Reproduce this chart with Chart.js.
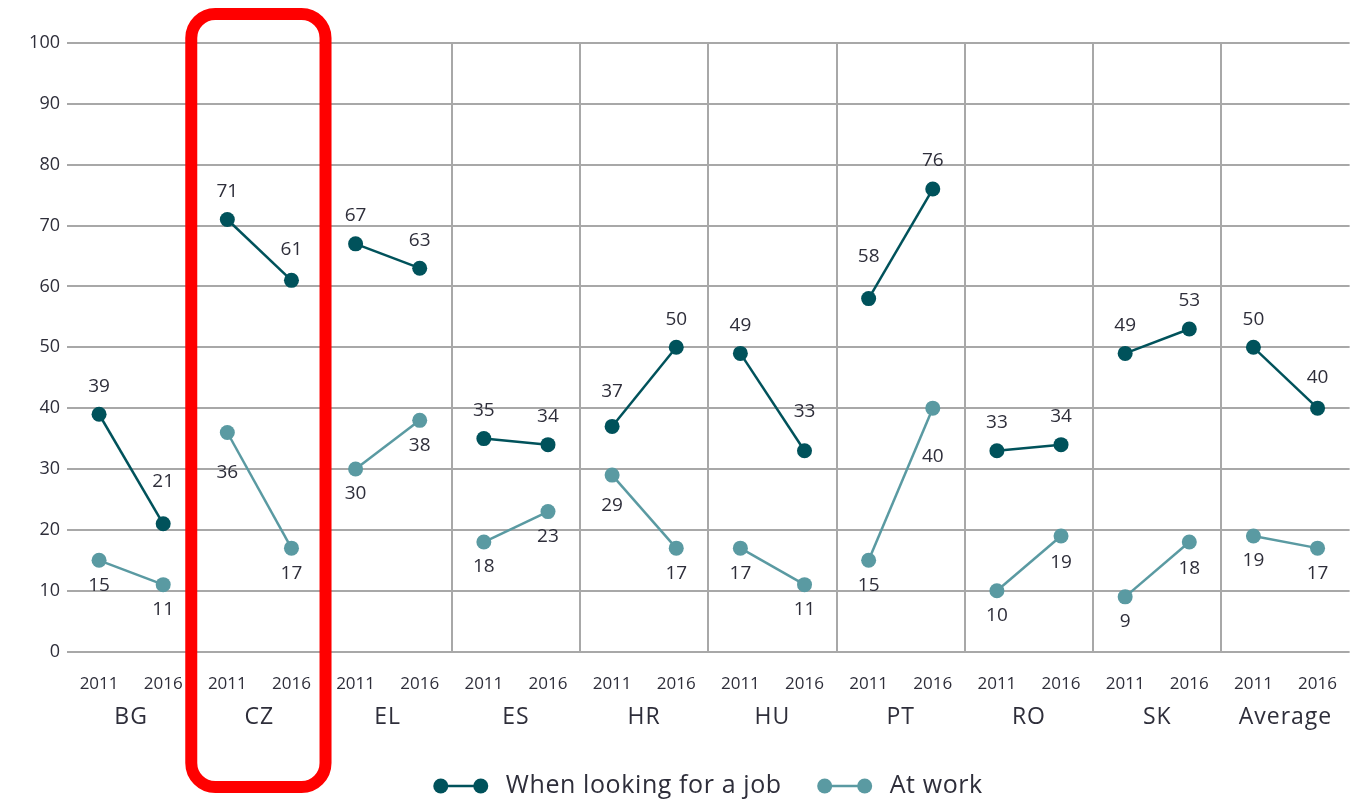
<!DOCTYPE html>
<html>
<head>
<meta charset="utf-8">
<title>Discrimination when looking for a job / at work</title>
<script src="https://cdn.jsdelivr.net/npm/chart.js@4.4.1/dist/chart.umd.min.js"></script>
<style>
    html, body { margin: 0; padding: 0; background: #fff; overflow: hidden; }
    canvas { display: block; }
</style>
</head>
<body>
<canvas id="discChart" width="1359" height="800"></canvas>
<script>
const countries = ['BG', 'CZ', 'EL', 'ES', 'HR', 'HU', 'PT', 'RO', 'SK', 'Average'];
const years = ['2011', '2016'];
const lookingForJob = [39, 21, 71, 61, 67, 63, 35, 34, 37, 50, 49, 33, 58, 76, 33, 34, 49, 53, 50, 40];
const atWork = [15, 11, 36, 17, 30, 38, 18, 23, 29, 17, 17, 11, 15, 40, 10, 19, 9, 18, 19, 17];
const yTicks = [0, 10, 20, 30, 40, 50, 60, 70, 80, 90, 100];
const seriesNames = ['When looking for a job', 'At work'];

const darkTeal = '#00525b';
const lightTeal = '#5a9aa2';
const textColor = '#2e2e3a';
const gridColor = '#a8a8a8';
const font = '"Open Sans", "DejaVu Sans", sans-serif';

// one x slot per country/year pair
const labels = [];
countries.forEach(c => years.forEach(y => labels.push(c + ' ' + y)));

// label position: dark series above the dot, light one below it,
// pushed a bit further when the line runs into the label
const valueLabels = {
    id: 'valueLabels',
    afterDatasetsDraw(chart) {
        const ctx = chart.ctx;
        ctx.save();
        ctx.font = '19px ' + font;
        ctx.fillStyle = textColor;
        ctx.textAlign = 'center';
        ctx.textBaseline = 'middle';
        chart.data.datasets.forEach((ds, di) => {
            const meta = chart.getDatasetMeta(di);
            meta.data.forEach((pt, i) => {
                const v = ds.data[i];
                const other = ds.data[i % 2 === 0 ? i + 1 : i - 1];
                const dir = di === 0 ? -1 : 1;
                const into = di === 0 ? other - v : v - other;
                const extra = Math.max(0, into - 8) * 1.4;
                ctx.fillText(String(v), pt.x, pt.y + dir * (di === 0 ? 28 : 25) + dir * extra);
            });
        });
        ctx.restore();
    }
};

const countryLabels = {
    id: 'countryLabels',
    afterDraw(chart) {
        const ctx = chart.ctx;
        const x = chart.scales.x;
        ctx.save();
        ctx.font = '23px ' + font;
        ctx.letterSpacing = '1px';
        ctx.fillStyle = textColor;
        ctx.textAlign = 'center';
        ctx.textBaseline = 'middle';
        countries.forEach((c, i) => {
            const px = (x.getPixelForValue(i * 2) + x.getPixelForValue(i * 2 + 1)) / 2;
            ctx.fillText(c, px, chart.chartArea.bottom + 66);
        });
        ctx.restore();
    }
};

const legendPlugin = {
    id: 'legendLine',
    afterDraw(chart) {
        const ctx = chart.ctx;
        const area = chart.chartArea;
        const colors = [darkTeal, lightTeal];
        const markerW = 54, gapText = 18, gapItem = 36;
        ctx.save();
        ctx.font = '25px ' + font;
        ctx.letterSpacing = '0.6px';
        const widths = seriesNames.map(n => markerW + gapText + ctx.measureText(n).width);
        const total = widths[0] + gapItem + widths[1];
        let x = (area.left + area.right) / 2 - total / 2;
        const y = 786;
        seriesNames.forEach((n, i) => {
            ctx.strokeStyle = colors[i];
            ctx.fillStyle = colors[i];
            ctx.lineWidth = 2.5;
            ctx.beginPath();
            ctx.moveTo(x + 7, y);
            ctx.lineTo(x + markerW - 7, y);
            ctx.stroke();
            [x + 7, x + markerW - 7].forEach(cx => {
                ctx.beginPath();
                ctx.arc(cx, y, 7.5, 0, Math.PI * 2);
                ctx.fill();
            });
            ctx.fillStyle = textColor;
            ctx.textAlign = 'left';
            ctx.textBaseline = 'middle';
            ctx.fillText(n, x + markerW + gapText, y);
            x += widths[i] + gapItem;
        });
        ctx.restore();
    }
};

// red rounded box round the CZ group
const highlight = {
    id: 'highlight',
    afterDraw(chart) {
        const ctx = chart.ctx;
        const x = chart.scales.x;
        const left = (x.getPixelForValue(1) + x.getPixelForValue(2)) / 2 - 4;
        const right = (x.getPixelForValue(3) + x.getPixelForValue(4)) / 2 + 2;
        ctx.save();
        ctx.strokeStyle = '#ff0000';
        ctx.lineWidth = 12;
        ctx.beginPath();
        ctx.roundRect(left, 14, right - left, 773, 24);
        ctx.stroke();
        ctx.restore();
    }
};

new Chart(document.getElementById('discChart'), {
    type: 'line',
    data: {
        labels: labels,
        datasets: [
            {
                label: seriesNames[0],
                data: lookingForJob,
                borderColor: darkTeal,
                backgroundColor: darkTeal,
                borderWidth: 2.5,
                pointRadius: 7.5,
                pointHoverRadius: 7.5,
                pointBorderWidth: 0,
                segment: { borderColor: c => c.p0DataIndex % 2 === 1 ? 'transparent' : darkTeal }
            },
            {
                label: seriesNames[1],
                data: atWork,
                borderColor: lightTeal,
                backgroundColor: lightTeal,
                borderWidth: 2.5,
                pointRadius: 7.5,
                pointHoverRadius: 7.5,
                pointBorderWidth: 0,
                segment: { borderColor: c => c.p0DataIndex % 2 === 1 ? 'transparent' : lightTeal }
            }
        ]
    },
    options: {
        responsive: false,
        animation: false,
        layout: { autoPadding: false, padding: { top: 43, right: 0, bottom: 38, left: 0 } },
        plugins: {
            legend: { display: false },
            tooltip: { enabled: false }
        },
        scales: {
            x: {
                offset: true,
                border: { display: false },
                grid: {
                    offset: true,
                    drawTicks: false,
                    lineWidth: 2,
                    color: c => (c.index > 0 && c.index % 2 === 0) ? gridColor : 'transparent'
                },
                ticks: {
                    padding: 22,
                    maxRotation: 0,
                    autoSkip: false,
                    color: textColor,
                    font: { family: font, size: 17 },
                    callback: (v, i) => years[i % 2]
                },
                afterFit(scale) {
                    scale.height += 46;
                }
            },
            y: {
                min: 0,
                max: 100,
                border: { display: false },
                afterBuildTicks(scale) { scale.ticks = yTicks.map(v => ({ value: v })); },
                afterFit(scale) { scale.width = 67; },
                grid: { drawTicks: false, lineWidth: 2, color: gridColor },
                ticks: {
                    padding: 7,
                    color: textColor,
                    font: { family: font, size: 18 }
                }
            }
        }
    },
    plugins: [valueLabels, countryLabels, legendPlugin, highlight]
});
</script>
</body>
</html>
